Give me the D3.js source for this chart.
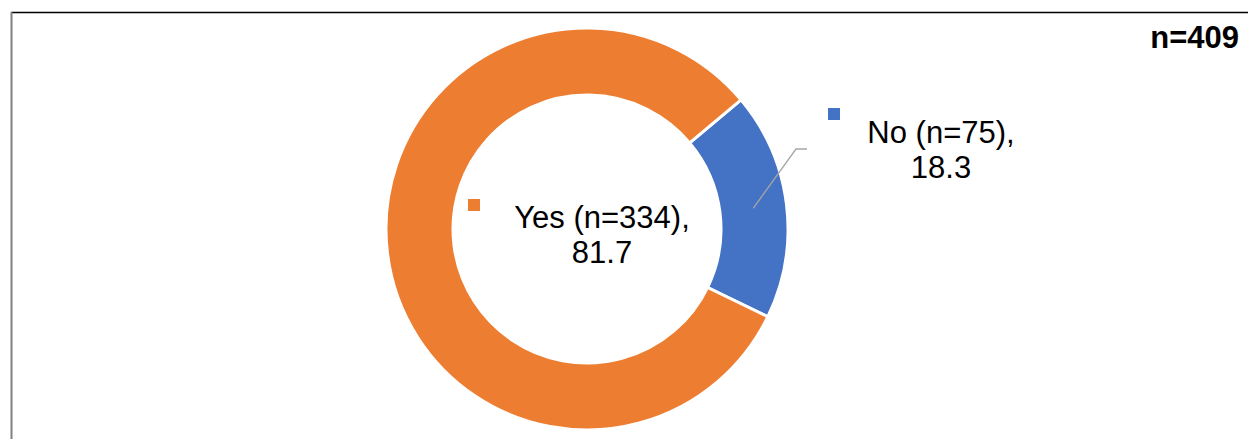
<!DOCTYPE html>
<html>
<head>
<meta charset="utf-8">
<script src="https://cdn.jsdelivr.net/npm/d3@7"></script>
<style>
  html, body { margin: 0; padding: 0; background: #fff; }
  svg { display: block; font-family: "Liberation Sans", Arial, sans-serif; }
</style>
</head>
<body>
<div id="chart"></div>
<script>
// Chart data
const categories = ["No", "Yes"];
const counts = [75, 334];
const percents = [18.3, 81.7];
const totalN = 409;
const colors = ["#4472C4", "#ED7D31"];

const width = 1248;
const height = 439;

const svg = d3.select("#chart")
  .append("svg")
  .attr("width", width)
  .attr("height", height);

// Frame lines (top black, left grey)
svg.append("line")
  .attr("x1", 11).attr("x2", width)
  .attr("y1", 12.5).attr("y2", 12.5)
  .attr("stroke", "#000").attr("stroke-width", 1.5);
svg.append("line")
  .attr("x1", 11.5).attr("x2", 11.5)
  .attr("y1", 12).attr("y2", height)
  .attr("stroke", "#808080").attr("stroke-width", 2);

// Donut geometry
const cx = 587, cy = 229;
const outerR = 201, innerR = 134;
const startDeg = 50; // first slice angle

const pie = d3.pie()
  .sort(null)
  .value((d) => d.pct)
  .startAngle(startDeg * Math.PI / 180)
  .endAngle((startDeg + 360) * Math.PI / 180);

const arc = d3.arc().innerRadius(innerR).outerRadius(outerR);

const data = categories.map((c, i) => ({ cat: c, n: counts[i], pct: percents[i], color: colors[i] }));
const arcs = pie(data);

const g = svg.append("g").attr("transform", `translate(${cx},${cy})`);

g.selectAll("path.slice")
  .data(arcs)
  .enter()
  .append("path")
  .attr("class", "slice")
  .attr("d", arc)
  .attr("fill", (d) => d.data.color)
  .attr("stroke", "#fff")
  .attr("stroke-width", 3);

// Label layout (relative to donut centre)
const labelPos = {
  No: { x: 354, y: -86, marker: [241, -121], leader: true },
  Yes: { x: 15, y: -1, marker: [-119, -30], leader: false }
};
const lineGap = 35;

arcs.forEach((a) => {
  const lp = labelPos[a.data.cat];
  const lab = g.append("g").attr("class", "label");

  if (lp.leader) {
    const c = arc.centroid(a);
    lab.append("polyline")
      .attr("points", [c, [209, -80], [220, -80]].map((p) => p.join(",")).join(" "))
      .attr("fill", "none")
      .attr("stroke", "#A6A6A6")
      .attr("stroke-width", 1.3);
  }

  lab.append("rect")
    .attr("x", lp.marker[0]).attr("y", lp.marker[1])
    .attr("width", 12).attr("height", 12)
    .attr("fill", a.data.color);

  const txt = lab.append("text")
    .attr("text-anchor", "middle")
    .attr("font-size", 31)
    .attr("fill", "#000");
  txt.append("tspan").attr("x", lp.x).attr("y", lp.y)
    .text(`${a.data.cat} (n=${a.data.n}),`);
  txt.append("tspan").attr("x", lp.x).attr("y", lp.y + lineGap)
    .text(a.data.pct.toFixed(1));
});

// Total n in the corner
svg.append("text")
  .attr("x", 1239).attr("y", 48)
  .attr("text-anchor", "end")
  .attr("font-size", 31)
  .attr("font-weight", "bold")
  .text(`n=${totalN}`);
</script>
</body>
</html>
